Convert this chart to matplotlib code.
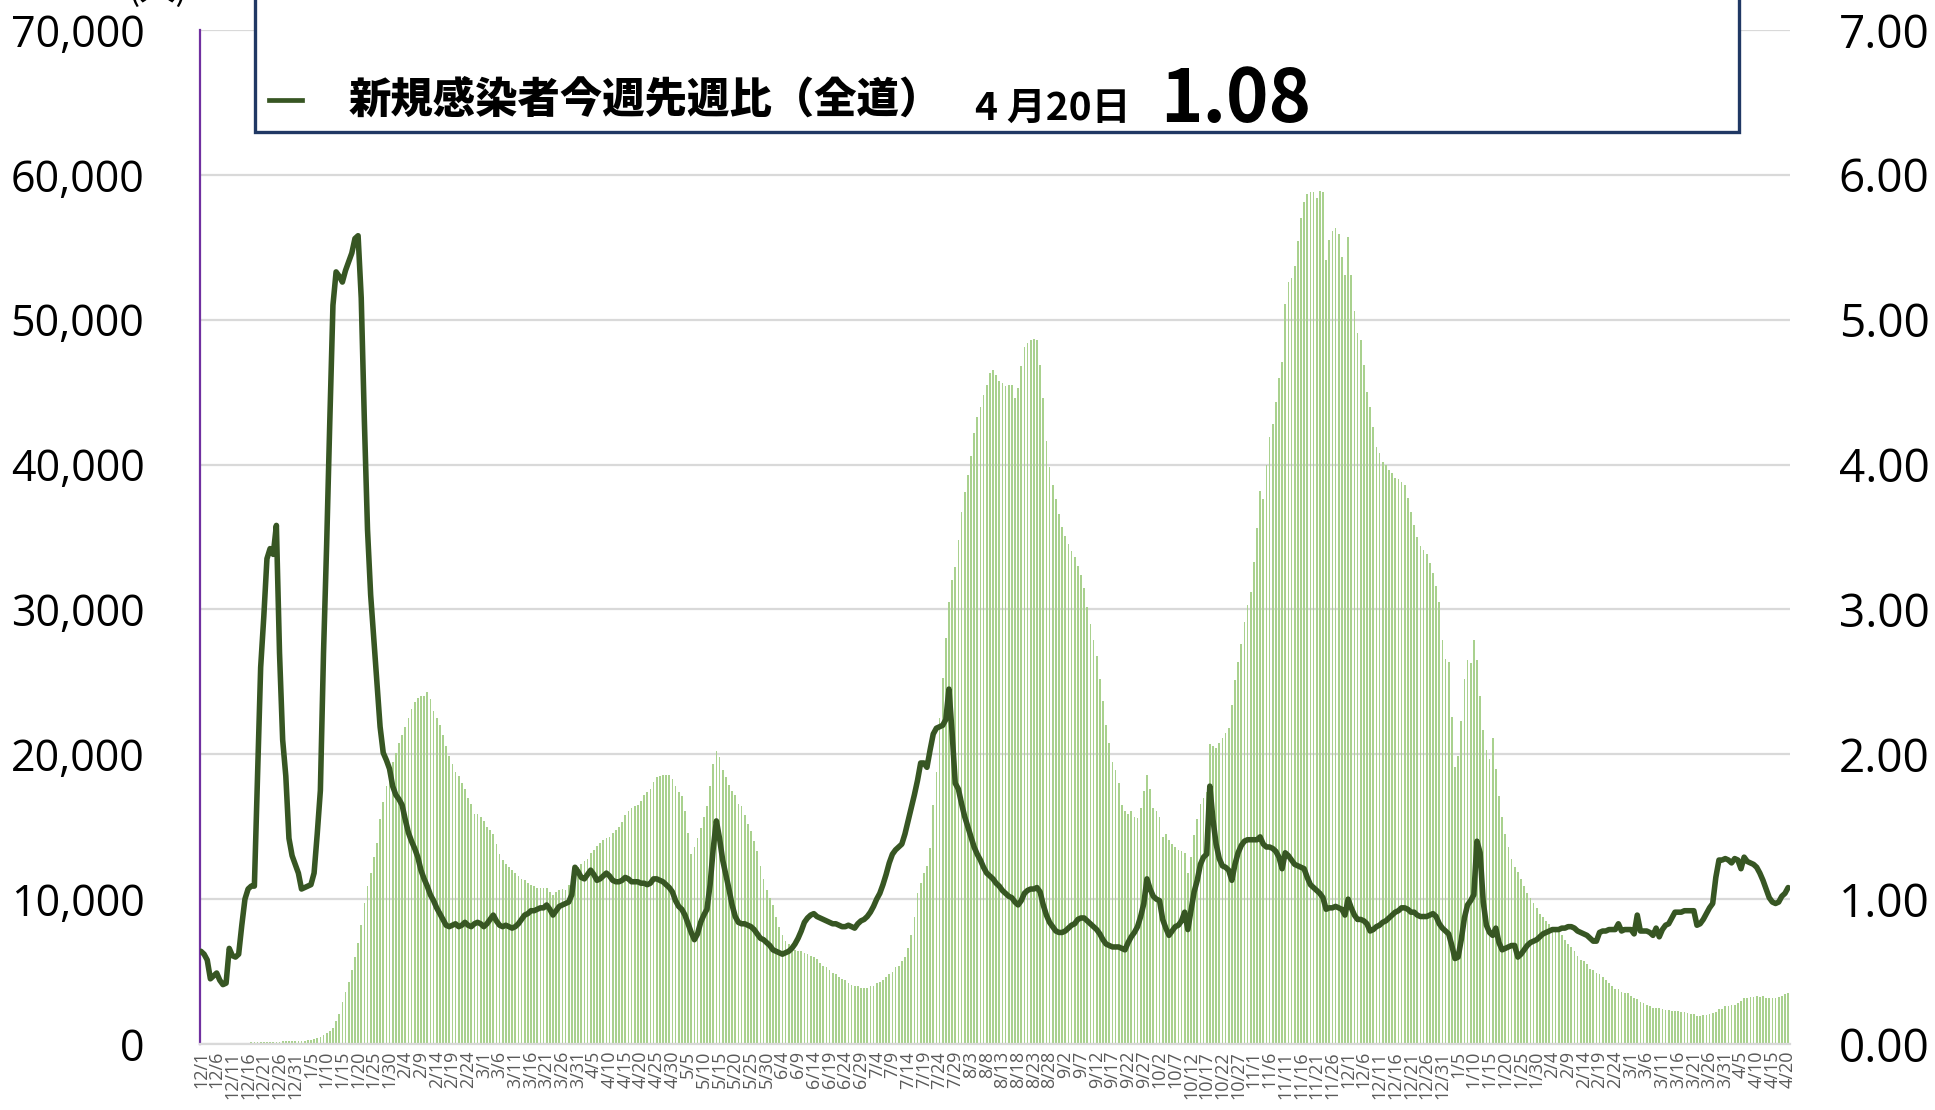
import matplotlib
matplotlib.use('Agg')
import matplotlib.pyplot as plt
from matplotlib.patches import Rectangle
from matplotlib.lines import Line2D
import numpy as np
import pandas as pd

plt.rcParams['font.family'] = ['Noto Sans CJK JP', 'DejaVu Sans']

# daily period shown on the x axis
dates = pd.date_range('2021-12-01', '2023-04-20', freq='D')

# new cases, 7-day total (thousands), one list per month
cases_2021_12 = [0.06, 0.06, 0.07, 0.07, 0.07, 0.08, 0.08, 0.08, 0.08, 0.09, 0.09, 0.09, 0.1, 0.1, 0.1, 0.1,
                 0.11, 0.11, 0.12, 0.12, 0.13, 0.14, 0.15, 0.16, 0.17, 0.17, 0.18, 0.18, 0.19, 0.19, 0.2]
cases_2022_01 = [0.21, 0.22, 0.23, 0.25, 0.28, 0.33, 0.4, 0.5, 0.62, 0.75, 0.9, 1.1, 1.6, 2.1, 2.9, 3.6,
                 4.3, 5.1, 6.0, 7.0, 8.2, 9.7, 10.9, 11.8, 12.9, 13.9, 15.5, 16.7, 17.8, 18.6, 19.5]
cases_2022_02 = [20.1, 20.8, 21.3, 21.9, 22.5, 23.1, 23.6, 23.9, 24.0, 24.0, 24.3, 23.8, 23.0, 22.5,
                 22.0, 21.3, 20.6, 19.9, 19.3, 18.8, 18.5, 18.0, 17.6, 17.0, 16.6, 15.9, 15.9, 15.7]
cases_2022_03 = [15.4, 15.0, 14.8, 14.5, 13.8, 13.1, 12.7, 12.4, 12.2, 12.0, 11.8, 11.6, 11.4, 11.3, 11.1,
                 11.0, 10.9, 10.8, 10.8, 10.8, 10.8, 10.5, 10.3, 10.5, 10.6, 10.7, 10.6, 11.0, 11.6, 11.8, 12.2]
cases_2022_04 = [12.4, 12.6, 12.8, 13.2, 13.4, 13.7, 13.9, 14.1, 14.2, 14.3, 14.6, 14.8, 15.0, 15.3, 15.8,
                 16.1, 16.3, 16.4, 16.5, 16.8, 17.2, 17.4, 17.6, 18.1, 18.4, 18.5, 18.6, 18.6, 18.6, 18.3]
cases_2022_05 = [17.8, 17.4, 17.1, 16.1, 14.6, 13.1, 13.6, 14.2, 14.9, 15.7, 16.4, 17.8, 19.3, 20.2, 19.8,
                 18.9, 18.4, 17.9, 17.5, 17.2, 16.6, 16.4, 15.8, 15.2, 14.7, 14.0, 13.3, 12.3, 11.4, 10.6, 10.1]
cases_2022_06 = [9.6, 8.8, 8.1, 7.5, 7.1, 6.9, 6.7, 6.5, 6.4, 6.4, 6.3, 6.2, 6.1, 6.0, 5.9,
                 5.6, 5.4, 5.3, 5.1, 4.9, 4.8, 4.6, 4.5, 4.4, 4.2, 4.1, 4.0, 4.0, 3.9, 3.9]
cases_2022_07 = [3.9, 4.0, 4.0, 4.2, 4.3, 4.4, 4.6, 4.8, 5.0, 5.3, 5.4, 5.7, 6.0, 6.6, 7.5, 8.8,
                 10.4, 11.1, 11.8, 12.3, 13.5, 16.5, 18.8, 22.5, 25.3, 28.0, 30.5, 32.0, 32.9, 34.8, 36.7]
cases_2022_08 = [38.1, 39.3, 40.6, 42.2, 43.3, 44.0, 44.8, 45.5, 46.3, 46.5, 46.2, 45.8, 45.6, 45.4, 45.5,
                 45.5, 44.6, 45.3, 46.8, 48.1, 48.4, 48.6, 48.7, 48.6, 46.9, 44.6, 41.6, 39.8, 38.6, 37.6, 36.6]
cases_2022_09 = [35.7, 35.1, 34.5, 34.0, 33.6, 33.0, 32.4, 31.5, 30.2, 29.0, 27.9, 26.8, 25.2, 23.7, 22.0,
                 20.8, 19.5, 18.9, 18.0, 16.5, 16.1, 15.9, 16.1, 15.7, 15.6, 16.3, 17.5, 18.6, 17.6, 16.3]
cases_2022_10 = [16.1, 15.7, 14.3, 14.5, 14.1, 13.8, 13.6, 13.4, 13.3, 13.2, 11.8, 12.9, 14.4, 15.5, 16.6,
                 17.0, 17.4, 20.7, 20.6, 20.4, 20.8, 21.1, 21.5, 21.8, 23.4, 25.1, 26.4, 27.6, 29.1, 30.3, 31.2]
cases_2022_11 = [33.3, 35.6, 38.2, 37.6, 40.0, 41.9, 42.8, 44.3, 46.0, 47.1, 51.1, 52.6, 52.9, 53.7, 55.4,
                 57.0, 58.1, 58.7, 58.8, 58.8, 58.4, 58.9, 58.8, 54.1, 55.5, 56.1, 56.3, 55.9, 54.3, 53.1]
cases_2022_12 = [55.7, 53.1, 50.6, 49.1, 48.6, 46.9, 45.0, 44.0, 42.6, 41.2, 40.8, 40.2, 40.0, 39.6, 39.4,
                 39.1, 39.0, 38.8, 38.6, 37.7, 36.7, 35.8, 35.0, 34.4, 34.1, 33.8, 33.2, 32.5, 31.6, 30.5, 27.9]
cases_2023_01 = [26.6, 26.4, 22.6, 19.1, 19.9, 22.3, 25.2, 26.5, 26.3, 27.9, 26.5, 24.0, 21.7, 20.3, 19.7,
                 21.1, 19.0, 17.1, 15.7, 14.5, 13.6, 12.8, 12.2, 11.9, 11.4, 10.9, 10.4, 10.1, 9.7, 9.4, 9.0]
cases_2023_02 = [8.8, 8.5, 8.3, 8.1, 8.0, 7.8, 7.5, 7.2, 6.9, 6.7, 6.4, 6.1, 5.8, 5.7,
                 5.5, 5.2, 5.1, 4.9, 4.8, 4.6, 4.4, 4.2, 4.0, 3.8, 3.8, 3.6, 3.5, 3.5]
cases_2023_03 = [3.3, 3.2, 3.1, 2.9, 2.8, 2.7, 2.6, 2.5, 2.5, 2.5, 2.4, 2.35, 2.35, 2.3, 2.3, 2.3,
                 2.2, 2.2, 2.15, 2.1, 2.05, 1.95, 1.95, 2.0, 2.0, 2.05, 2.15, 2.2, 2.4, 2.45, 2.6]
cases_2023_04 = [2.6, 2.7, 2.7, 2.85, 3.0, 3.15, 3.2, 3.25, 3.25, 3.3,
                 3.25, 3.3, 3.2, 3.2, 3.15, 3.2, 3.25, 3.3, 3.45, 3.55]

# week-on-week ratio of new cases
ratio_2021_12 = [0.64, 0.62, 0.58, 0.45, 0.47, 0.49, 0.44, 0.41, 0.42, 0.66, 0.61, 0.60, 0.62, 0.82, 1.00, 1.07,
                 1.09, 1.09, 1.85, 2.60, 2.95, 3.35, 3.42, 3.38, 3.58, 2.70, 2.10, 1.85, 1.42, 1.30, 1.24]
ratio_2022_01 = [1.18, 1.07, 1.08, 1.09, 1.10, 1.18, 1.45, 1.75, 2.70, 3.45, 4.30, 5.10, 5.33, 5.30, 5.26, 5.34,
                 5.40, 5.46, 5.56, 5.58, 5.15, 4.30, 3.55, 3.10, 2.80, 2.50, 2.19, 2.01, 1.96, 1.90, 1.78]
ratio_2022_02 = [1.72, 1.69, 1.65, 1.55, 1.46, 1.40, 1.35, 1.29, 1.20, 1.14, 1.09, 1.03, 0.99, 0.94,
                 0.90, 0.86, 0.82, 0.81, 0.82, 0.83, 0.81, 0.82, 0.84, 0.82, 0.81, 0.83, 0.84, 0.83]
ratio_2022_03 = [0.81, 0.83, 0.86, 0.89, 0.85, 0.82, 0.81, 0.82, 0.81, 0.80, 0.81, 0.83, 0.86, 0.89, 0.90,
                 0.92, 0.92, 0.93, 0.94, 0.94, 0.96, 0.93, 0.89, 0.92, 0.95, 0.96, 0.97, 0.98, 1.03, 1.22, 1.19]
ratio_2022_04 = [1.15, 1.14, 1.17, 1.20, 1.17, 1.13, 1.14, 1.16, 1.18, 1.16, 1.13, 1.12, 1.12, 1.13, 1.15,
                 1.14, 1.12, 1.12, 1.12, 1.11, 1.11, 1.10, 1.11, 1.14, 1.14, 1.13, 1.12, 1.10, 1.08, 1.05]
ratio_2022_05 = [0.99, 0.95, 0.93, 0.89, 0.83, 0.77, 0.72, 0.76, 0.84, 0.89, 0.93, 1.10, 1.35, 1.54, 1.42,
                 1.27, 1.17, 1.07, 0.96, 0.88, 0.84, 0.83, 0.83, 0.82, 0.81, 0.79, 0.76, 0.73, 0.72, 0.70, 0.68]
ratio_2022_06 = [0.65, 0.64, 0.63, 0.62, 0.63, 0.64, 0.66, 0.69, 0.73, 0.78, 0.84, 0.87, 0.89, 0.90, 0.88,
                 0.87, 0.86, 0.85, 0.84, 0.83, 0.83, 0.82, 0.81, 0.81, 0.82, 0.81, 0.80, 0.83, 0.85, 0.86]
ratio_2022_07 = [0.88, 0.91, 0.95, 1.00, 1.04, 1.10, 1.17, 1.25, 1.31, 1.34, 1.36, 1.38, 1.45, 1.54, 1.63, 1.72,
                 1.82, 1.94, 1.94, 1.91, 2.03, 2.14, 2.18, 2.19, 2.20, 2.24, 2.45, 2.15, 1.80, 1.76, 1.66]
ratio_2022_08 = [1.57, 1.50, 1.43, 1.36, 1.31, 1.27, 1.22, 1.18, 1.16, 1.14, 1.11, 1.09, 1.06, 1.04, 1.02, 1.01,
                 0.98, 0.96, 0.99, 1.04, 1.06, 1.07, 1.07, 1.08, 1.05, 0.96, 0.89, 0.84, 0.81, 0.78, 0.77]
ratio_2022_09 = [0.77, 0.78, 0.80, 0.82, 0.83, 0.86, 0.87, 0.87, 0.85, 0.83, 0.81, 0.79, 0.76, 0.72, 0.69,
                 0.68, 0.67, 0.67, 0.67, 0.66, 0.65, 0.70, 0.74, 0.77, 0.81, 0.88, 0.97, 1.14, 1.07, 1.02]
ratio_2022_10 = [1.00, 0.99, 0.86, 0.80, 0.75, 0.78, 0.81, 0.82, 0.85, 0.91, 0.79, 0.92, 1.05, 1.13, 1.24, 1.29,
                 1.31, 1.78, 1.55, 1.38, 1.28, 1.23, 1.22, 1.20, 1.13, 1.24, 1.32, 1.37, 1.40, 1.41, 1.41]
ratio_2022_11 = [1.41, 1.41, 1.43, 1.38, 1.36, 1.36, 1.35, 1.33, 1.29, 1.21, 1.32, 1.30, 1.27, 1.24, 1.23,
                 1.22, 1.21, 1.15, 1.10, 1.08, 1.06, 1.04, 1.01, 0.93, 0.94, 0.94, 0.95, 0.94, 0.93, 0.89]
ratio_2022_12 = [1.00, 0.94, 0.89, 0.86, 0.86, 0.85, 0.83, 0.78, 0.79, 0.81, 0.82, 0.84, 0.85, 0.87, 0.89, 0.91,
                 0.92, 0.94, 0.94, 0.93, 0.91, 0.91, 0.89, 0.88, 0.88, 0.88, 0.89, 0.90, 0.88, 0.83, 0.80]
ratio_2023_01 = [0.78, 0.76, 0.68, 0.59, 0.60, 0.72, 0.87, 0.96, 0.99, 1.03, 1.40, 1.32, 0.98, 0.82, 0.77, 0.75,
                 0.80, 0.70, 0.65, 0.66, 0.67, 0.68, 0.68, 0.60, 0.62, 0.65, 0.68, 0.70, 0.71, 0.72, 0.74]
ratio_2023_02 = [0.76, 0.77, 0.78, 0.79, 0.79, 0.79, 0.80, 0.80, 0.81, 0.81, 0.80, 0.78, 0.77, 0.76,
                 0.75, 0.73, 0.71, 0.71, 0.77, 0.78, 0.78, 0.79, 0.79, 0.79, 0.83, 0.78, 0.79, 0.79]
ratio_2023_03 = [0.79, 0.76, 0.89, 0.78, 0.78, 0.78, 0.77, 0.75, 0.80, 0.74, 0.79, 0.82, 0.83, 0.87, 0.91, 0.91,
                 0.91, 0.92, 0.92, 0.92, 0.92, 0.82, 0.83, 0.86, 0.90, 0.94, 0.97, 1.15, 1.27, 1.27, 1.28]
ratio_2023_04 = [1.27, 1.25, 1.28, 1.27, 1.21, 1.29, 1.26, 1.25, 1.24, 1.22,
                 1.18, 1.13, 1.07, 1.01, 0.98, 0.97, 0.98, 1.02, 1.04, 1.08]

cases = np.concatenate([cases_2021_12, cases_2022_01, cases_2022_02, cases_2022_03, cases_2022_04,
                        cases_2022_05, cases_2022_06, cases_2022_07, cases_2022_08, cases_2022_09,
                        cases_2022_10, cases_2022_11, cases_2022_12, cases_2023_01, cases_2023_02,
                        cases_2023_03, cases_2023_04]) * 1000
ratio = np.concatenate([ratio_2021_12, ratio_2022_01, ratio_2022_02, ratio_2022_03, ratio_2022_04,
                        ratio_2022_05, ratio_2022_06, ratio_2022_07, ratio_2022_08, ratio_2022_09,
                        ratio_2022_10, ratio_2022_11, ratio_2022_12, ratio_2023_01, ratio_2023_02,
                        ratio_2023_03, ratio_2023_04])

x = np.arange(len(dates))
W, H = 1935, 1110

fig = plt.figure(figsize=(W / 100, H / 100), dpi=100)
ax = fig.add_axes([200 / W, 1 - 1044 / H, (1790 - 200) / W, (1044 - 30) / H])

# bars: 7-day case totals
ax.bar(x, cases, width=0.55, color='#a9d18e', zorder=2)
ax.set_xlim(-0.3, len(x) - 0.4)
ax.set_ylim(0, 70000)
ax.set_yticks(np.arange(0, 70001, 10000))
ax.set_yticklabels([f'{v:,}' for v in range(0, 70001, 10000)], fontsize=31,
                   family=['Open Sans', 'DejaVu Sans'])
ax.tick_params(axis='y', length=0, pad=40)
ax.yaxis.grid(True, color='#d9d9d9', lw=1.6)
ax.set_axisbelow(True)

ax.set_xticks(x[::5])
ax.set_xticklabels([f'{d.month}/{d.day}' for d in dates[::5]], rotation=90, fontsize=13,
                   color='#595959', family=['Open Sans', 'DejaVu Sans'])
ax.tick_params(axis='x', length=0, pad=5)

ax.spines['top'].set_visible(False)
ax.spines['right'].set_visible(False)
ax.spines['left'].set_color('#7030a0')
ax.spines['left'].set_linewidth(1.6)
ax.spines['bottom'].set_color('#d9d9d9')
ax.spines['bottom'].set_linewidth(1.6)

# line: week-on-week ratio
ax2 = ax.twinx()
ax2.plot(x, ratio, color='#375623', lw=4.0, solid_joinstyle='round', solid_capstyle='round')
ax2.set_ylim(0, 7)
ax2.set_yticks(np.arange(0, 8))
ax2.set_yticklabels([f'{v:.2f}' for v in range(0, 8)], fontsize=33,
                    family=['Open Sans', 'DejaVu Sans'])
ax2.tick_params(axis='y', length=0, pad=35)
for s in ax2.spines.values():
    s.set_visible(False)

# unit label, cut by the top edge as in the original
fig.text(158 / W, 1 + 10 / H, '(人)', fontsize=26, ha='center', va='center')

# legend box
fig.add_artist(Rectangle((255 / W, 1 - 132 / H), (1739 - 255) / W, 0.2, transform=fig.transFigure,
                         facecolor='white', edgecolor='#203864', lw=2.4, zorder=10, clip_on=False))
fig.add_artist(Line2D([269 / W, 302 / W], [1 - 100 / H] * 2, transform=fig.transFigure,
                      color='#375623', lw=3.4, zorder=11))
fig.text(349 / W, 1 - 100 / H, '新規感染者今週先週比（全道）', fontsize=30.5, fontweight='black',
         ha='left', va='center', zorder=11)
fig.text(975 / W, 1 - 120 / H, '4 月20日', fontsize=28, fontweight='bold', ha='left', va='baseline',
         family=['Noto Sans CJK JP'], zorder=11)
fig.text(1160 / W, 1 - 122 / H, '1.08', fontsize=52, fontweight='bold', ha='left', va='baseline',
         family=['Noto Sans CJK JP'], zorder=11)

fig.savefig('out.png', dpi=100)
